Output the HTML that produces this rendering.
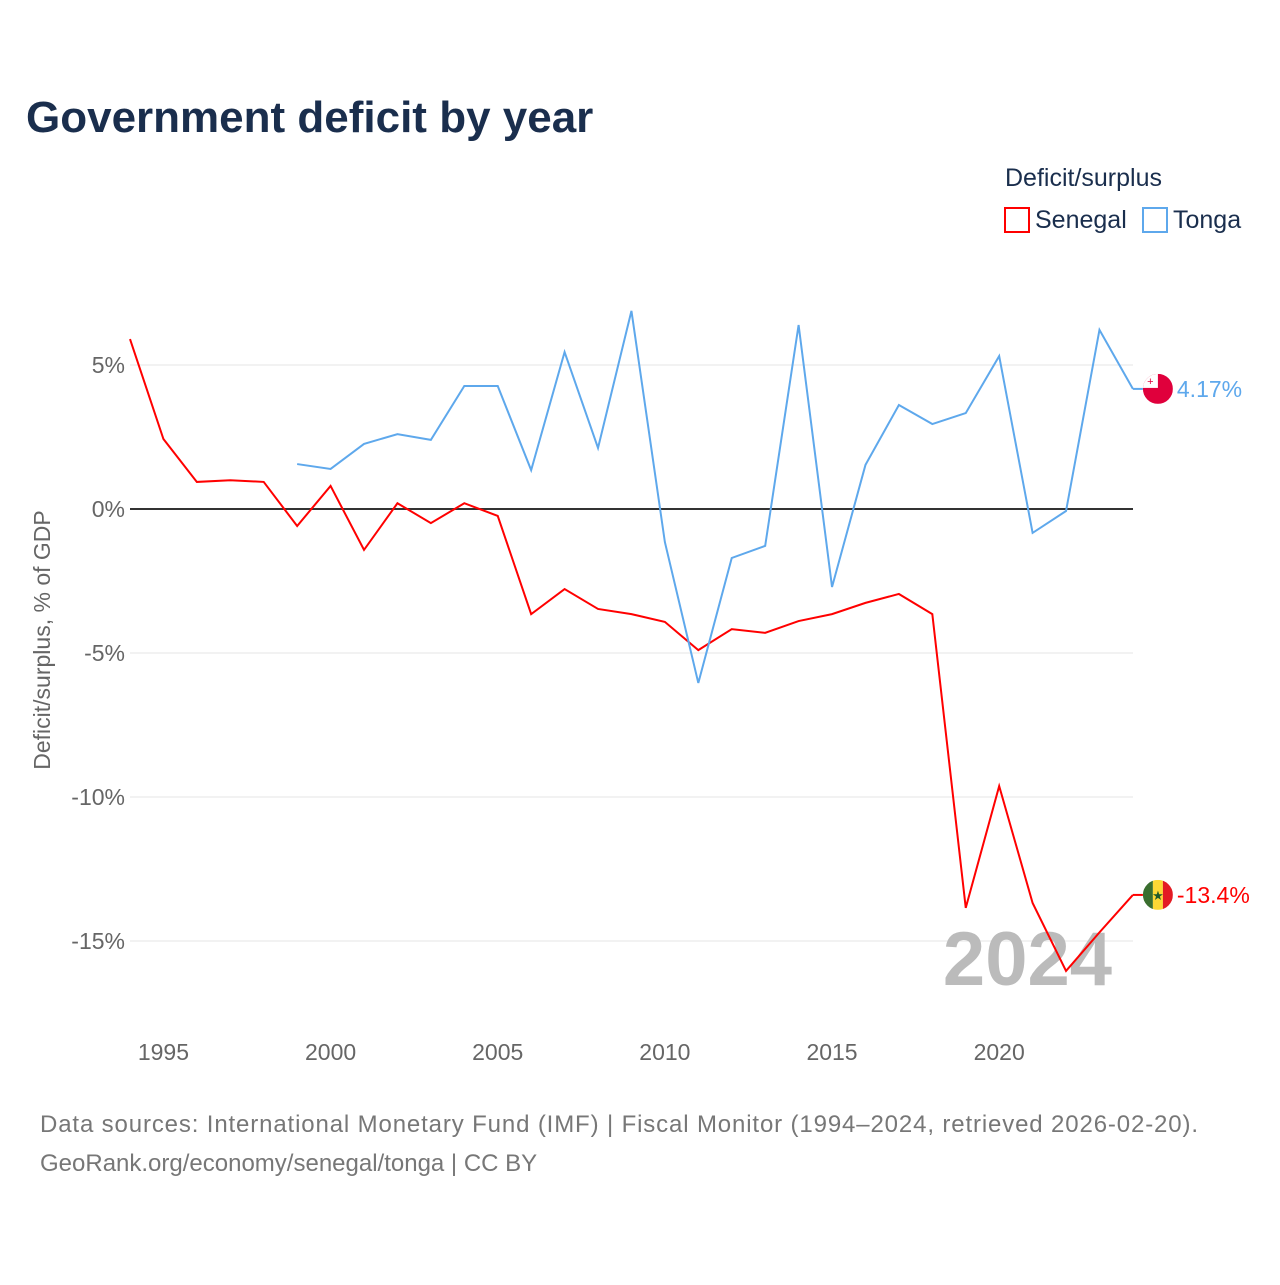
<!DOCTYPE html>
<html><head><meta charset="utf-8"><style>
body{margin:0;background:#fff;font-family:"Liberation Sans",sans-serif;}
svg text{font-family:"Liberation Sans",sans-serif;}
</style></head><body>
<svg id="chart" width="1280" height="1280" xmlns="http://www.w3.org/2000/svg">
<defs><clipPath id="c1"><circle id="cc1" cx="0" cy="0" r="15"/></clipPath><clipPath id="c2"><circle id="cc2" cx="0" cy="0" r="15"/></clipPath></defs>
<rect width="1280" height="1280" fill="#fff"/>
<text x="26" y="132" font-size="44" font-weight="bold" fill="#1a2e4d">Government deficit by year</text>
<text x="1005" y="186" font-size="25" fill="#1a2e4d">Deficit/surplus</text>
<g><rect x="1005" y="208" width="24" height="24" fill="none" stroke="#f00" stroke-width="2"/><text x="1035" y="228" font-size="25" fill="#1a2e4d">Senegal</text></g>
<g><rect x="1143" y="208" width="24" height="24" fill="none" stroke="#5ea8ec" stroke-width="2"/><text x="1173" y="228" font-size="25" fill="#1a2e4d">Tonga</text></g>
<text transform="translate(50,640) rotate(-90)" text-anchor="middle" font-size="23" fill="#666">Deficit/surplus, % of GDP</text>
<g id="grid"></g><g id="yt"></g><g id="xt"></g>
<text x="1112" y="985" text-anchor="end" font-size="76" font-weight="bold" fill="#bbb">2024</text>
<g id="lines"></g>
<text x="40" y="1132" font-size="24" fill="#777" textLength="1158">Data sources: International Monetary Fund (IMF) | Fiscal Monitor (1994–2024, retrieved 2026-02-20).</text>
<text x="40" y="1171" font-size="24" fill="#777">GeoRank.org/economy/senegal/tonga | CC BY</text>
</svg>
<script>
const yTicks=[5,0,-5,-10,-15];
const xTicks=[1995,2000,2005,2010,2015,2020];
const senegalYears=[1994,1995,1996,1997,1998,1999,2000,2001,2002,2003,2004,2005,2006,2007,2008,2009,2010,2011,2012,2013,2014,2015,2016,2017,2018,2019,2020,2021,2022,2023,2024];
const senegalValues=[5.9,2.43,0.94,1.0,0.94,-0.59,0.8,-1.42,0.2,-0.49,0.2,-0.24,-3.65,-2.78,-3.47,-3.65,-3.92,-4.9,-4.17,-4.3,-3.89,-3.65,-3.26,-2.95,-3.65,-13.85,-9.62,-13.68,-16.04,-14.7,-13.4];
const tongaYears=[1999,2000,2001,2002,2003,2004,2005,2006,2007,2008,2009,2010,2011,2012,2013,2014,2015,2016,2017,2018,2019,2020,2021,2022,2023,2024];
const tongaValues=[1.56,1.39,2.26,2.6,2.4,4.27,4.27,1.35,5.45,2.12,6.88,-1.15,-6.04,-1.7,-1.28,6.39,-2.71,1.53,3.61,2.95,3.33,5.31,-0.83,-0.07,6.22,4.17];
const NS="http://www.w3.org/2000/svg";
const x=yr=>130+(yr-1994)*33.43;
const y=v=>509-v*28.8;
function mk(tag,attrs,parent,txt){const e=document.createElementNS(NS,tag);for(const k in attrs)e.setAttribute(k,attrs[k]);if(txt!=null)e.textContent=txt;parent.appendChild(e);return e;}
const grid=document.getElementById('grid'),yt=document.getElementById('yt'),xt=document.getElementById('xt'),lines=document.getElementById('lines');
yTicks.forEach(t=>{
 const l=mk('line',{x1:130,x2:1133,y1:y(t),y2:y(t),stroke:t===0?'#333':'#e6e6e6','stroke-width':t===0?2:1},grid);
 
 
 const tx=mk('text',{x:125,y:y(t)+8,'text-anchor':'end','font-size':23,fill:'#666'},yt,t+'%');
 
 
});
xTicks.forEach(t=>{
 const tx=mk('text',{x:x(t),y:1060,'text-anchor':'middle','font-size':23,fill:'#666'},xt,String(t));
 
 
});
function series(yrs,vals,color,name,label,flag){
 const d=yrs.map((yr,i)=>(i?'L':'M')+x(yr)+','+y(vals[i])).join('');
 const p=mk('path',{d:d,fill:'none',stroke:color,'stroke-width':2},lines);
 
 
 const lv=vals[vals.length-1],ly=y(lv),lx=x(yrs[yrs.length-1]);
 const g=mk('g',{},lines);
 
 
 mk('line',{x1:lx,x2:lx+10,y1:ly,y2:ly,stroke:color,'stroke-width':2},g);
 const cx=lx+25;
 if(flag==='sn'){
  const c=document.getElementById('cc1');c.setAttribute('cx',cx);c.setAttribute('cy',ly);
  const f=mk('g',{'clip-path':'url(#c1)'},g);
  mk('rect',{x:cx-15,y:ly-15,width:10,height:30,fill:'#3a6e2f'},f);
  mk('rect',{x:cx-5,y:ly-15,width:10,height:30,fill:'#fdd835'},f);
  mk('rect',{x:cx+5,y:ly-15,width:10,height:30,fill:'#e31b23'},f);
  mk('text',{x:cx,y:ly+5,'text-anchor':'middle','font-size':13,fill:'#1f5a2a'},f,'★');
 } else {
  const c=document.getElementById('cc2');c.setAttribute('cx',cx);c.setAttribute('cy',ly);
  const f=mk('g',{'clip-path':'url(#c2)'},g);
  mk('rect',{x:cx-15,y:ly-15,width:30,height:30,fill:'#e0003c'},f);
  mk('rect',{x:cx-15,y:ly-15,width:15,height:14,fill:'#fff'},f);
  mk('text',{x:cx-7.5,y:ly-4,'text-anchor':'middle','font-size':11,fill:'#e0003c'},f,'+');
 }
 mk('text',{x:lx+44,y:ly+8,'font-size':23,fill:color},g,label);
}
series(senegalYears,senegalValues,'#ff0000','senegal','-13.4%','sn');
series(tongaYears,tongaValues,'#5ea8ec','tonga','4.17%','to');
</script>
</body></html>
